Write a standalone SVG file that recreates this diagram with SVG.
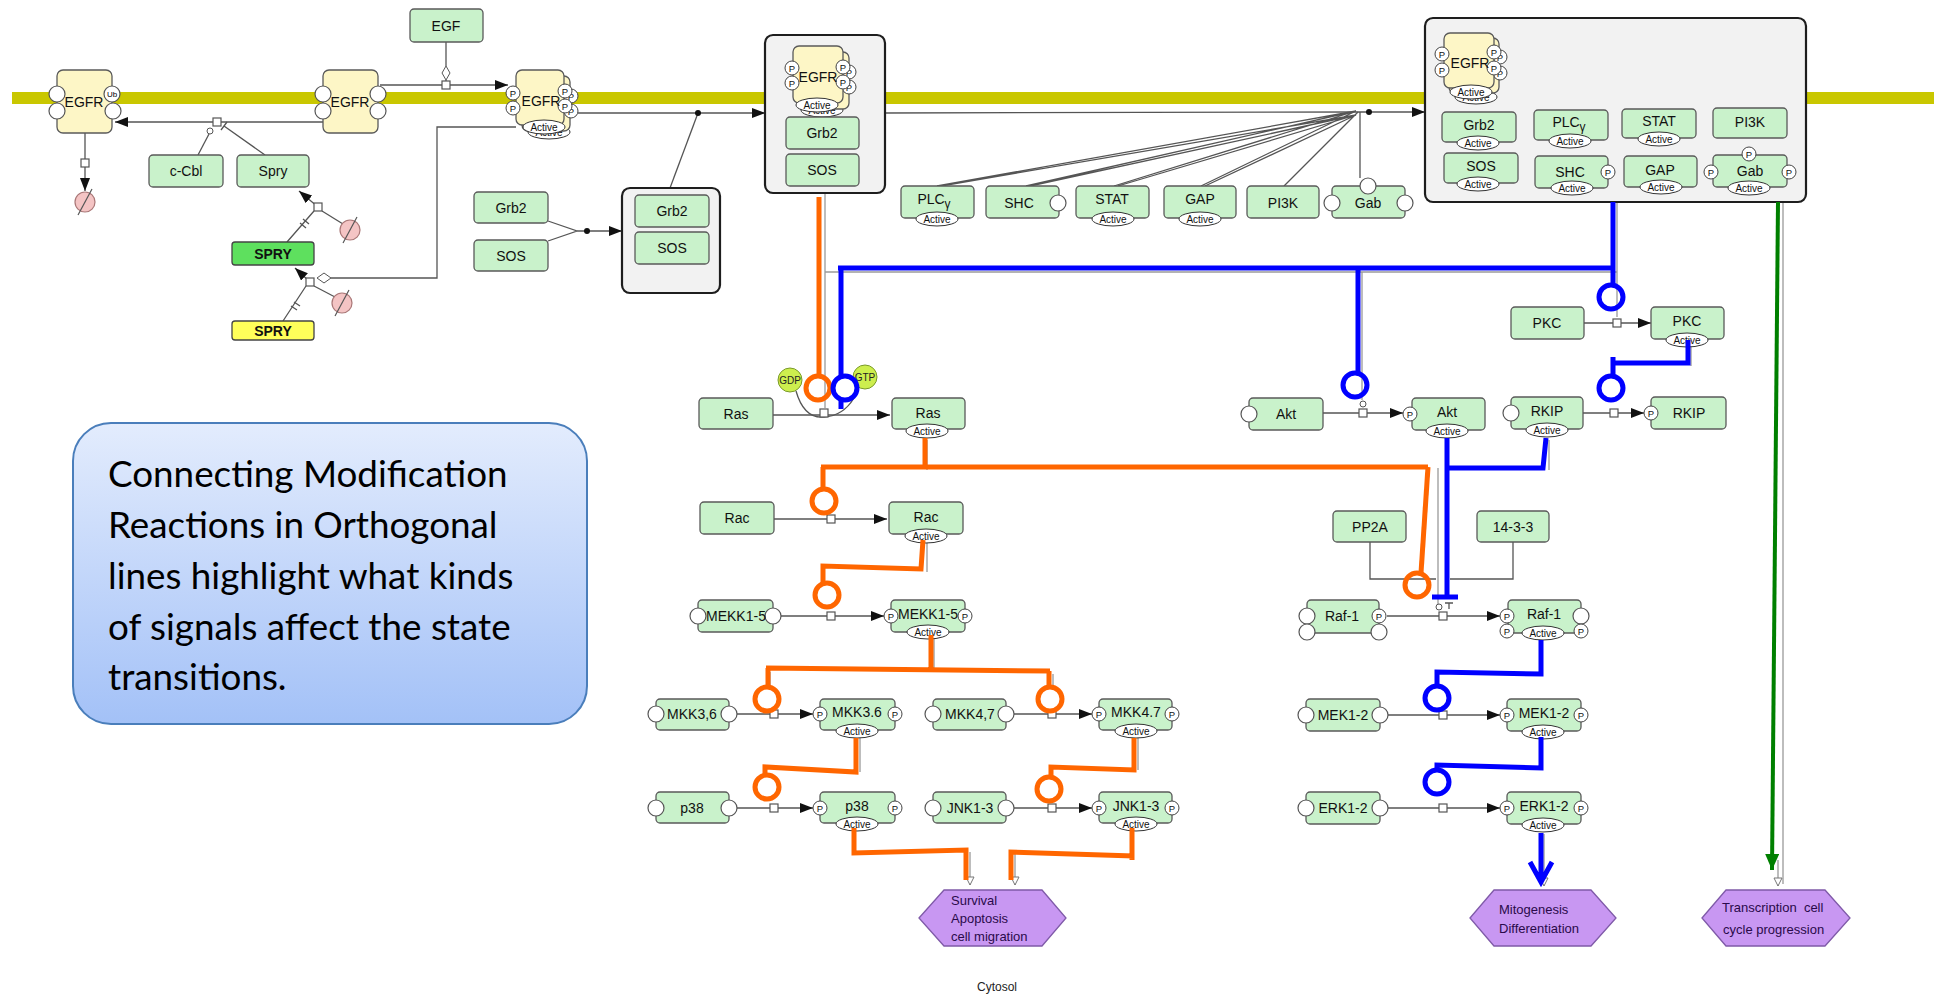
<svg xmlns="http://www.w3.org/2000/svg" width="1934" height="994" viewBox="0 0 1934 994">
<style>
.mm{fill:#c9f2cb;stroke:#5a5a5a;stroke-width:1.3}
.eg{fill:#fdf6c6;stroke:#5a5a5a;stroke-width:1.3}
.cx{fill:#f2f2f2;stroke:#1e1e1e;stroke-width:2.2}
.t{font-family:"Liberation Sans",Arial,sans-serif;font-size:14px;fill:#111;text-anchor:middle}
.ln{fill:none;stroke:#555;stroke-width:1.3}
.gl{fill:none;stroke:#9a9a9a;stroke-width:1.3}
.or{fill:none;stroke:#ff6600;stroke-width:5}
.bl{fill:none;stroke:#0000ff;stroke-width:5}
.hx{fill:#c897f2;stroke:#7f5aa8;stroke-width:1.3}
.ht{font-family:"Liberation Sans",Arial,sans-serif;font-size:13px;fill:#2a0a4a}
.note{font-family:Lato,"Open Sans",sans-serif;font-size:36.8px;fill:#000}
</style>
<defs>
<marker id="ar" markerUnits="userSpaceOnUse" markerWidth="13" markerHeight="10" refX="13" refY="5" orient="auto"><path d="M0,0 L13,5 L0,10 z" fill="#111"/></marker>
<marker id="ot" markerUnits="userSpaceOnUse" markerWidth="10" markerHeight="10" refX="9" refY="5" orient="auto"><path d="M1,1 L9,5 L1,9 z" fill="#fff" stroke="#777"/></marker>
<marker id="ga" markerUnits="userSpaceOnUse" markerWidth="16" markerHeight="14" refX="16" refY="7" orient="auto"><path d="M0,0 L16,7 L0,14 z" fill="#008000"/></marker>
<g id="act"><ellipse rx="21" ry="7" fill="#fff" stroke="#333" stroke-width="1"/><text y="3.5" font-family="Liberation Sans,Arial,sans-serif" font-size="10" text-anchor="middle" fill="#111">Active</text></g>
<g id="pp"><circle r="7" fill="#fff" stroke="#444" stroke-width="1"/><text y="3.5" font-family="Liberation Sans,Arial,sans-serif" font-size="9.5" text-anchor="middle" fill="#111">P</text></g>
<circle id="sv" r="8" fill="#fff" stroke="#555" stroke-width="1.2"/>
<rect id="rs" x="-4" y="-4" width="8" height="8" fill="#fff" stroke="#555" stroke-width="1.2"/>
<circle id="cat" r="3" fill="#fff" stroke="#555" stroke-width="1"/>
<g id="deg"><circle r="10" fill="#f4c4c4" stroke="#a77" stroke-width="1.2"/><line x1="-7" y1="13" x2="7" y2="-13" stroke="#555" stroke-width="1.2"/></g>
<linearGradient id="bx" x1="0" y1="0" x2="0" y2="1"><stop offset="0" stop-color="#e3ecfd"/><stop offset="1" stop-color="#a3c1f7"/></linearGradient>
</defs>

<rect width="1934" height="994" fill="#fff"/>

<!-- plasma membrane -->
<rect id="membrane" x="12" y="92" width="1922" height="12" fill="#c9c700"/>

<!-- thin reaction arcs and lines -->
<g id="connectors">
  <!-- EGF binding -->
  <path class="ln" d="M446,42 V66"/>
  <polygon points="446,66 450,73 446,80 442,73" fill="#fff" stroke="#555"/>
  <path class="ln" d="M446,80 V81"/>
  <path class="ln" d="M380,85 H508" marker-end="url(#ar)"/>
  <use href="#rs" x="446" y="85"/>
  <!-- ubiquitination -->
  <path class="ln" d="M323,122 H115" marker-end="url(#ar)"/>
  <path class="ln" d="M198,155 L209,134"/>
  <use href="#cat" x="210" y="131"/>
  <path class="ln" d="M265,155 L224,126 M221,130 L227,122"/>
  <use href="#rs" x="217" y="122"/>
  <!-- EGFR degradation -->
  <path class="ln" d="M85,133 V159 M85,167 V191" marker-end="url(#ar)"/>
  <use href="#rs" x="85" y="163"/>
  <use href="#deg" x="85" y="202"/>
  <!-- Spry production from SPRY -->
  <path class="ln" d="M287,242 L314,211 M300,223 L306,228 M303,219 L309,224"/>
  <path class="ln" d="M318,207 L299,191" marker-end="url(#ar)"/>
  <path class="ln" d="M322,211 L343,224"/>
  <use href="#rs" x="318" y="207"/>
  <use href="#deg" x="350" y="230"/>
  <path class="ln" d="M283,321 L306,286 M291,306 L297,310 M294,302 L300,306"/>
  <path class="ln" d="M310,282 L295,268" marker-end="url(#ar)"/>
  <path class="ln" d="M314,286 L335,297"/>
  <use href="#rs" x="310" y="282"/>
  <use href="#deg" x="342" y="303"/>
  <path class="ln" d="M331,278 H437 V127 H516"/>
  <polygon points="317,278 324,273 331,278 324,283" fill="#fff" stroke="#555"/>
  <!-- Grb2 / SOS association -->
  <path class="ln" d="M548,221 L577,231 L548,241 M577,231 H622" marker-end="url(#ar)"/>
  <circle cx="587" cy="231" r="3" fill="#111"/>
  <path class="ln" d="M578,113 H765" marker-end="url(#ar)"/>
  <path class="ln" d="M670,188 L698,113"/>
  <circle cx="698" cy="113" r="3" fill="#111"/>
  <!-- adaptor recruitment -->
  <path class="ln" d="M885,113 L1358,112 H1425" marker-end="url(#ar)"/>
  <circle cx="1369" cy="112" r="3" fill="#111"/>
  <path class="ln" d="M937,186 L1356,111 M941,186 L1356,115 M1026,186 L1356,111 M1030,186 L1356,115 M1114,186 L1356,111 M1118,186 L1356,115 M1201,186 L1356,111 M1205,186 L1356,115 M1284,186 L1358,112 M1360,178 V112"/>
  <!-- underlying gray routes of the highlighted signals -->
  <path class="gl" d="M825,193 V408 M825,272 H1617 M1362,272 V400 M1617,202 V317 M1438,468 V604 M927,440 V470 M927,541 V572 M934,634 V672 M770,672 V690 M1053,674 V690 M860,737 V772 M1138,737 V770 M1783,202 V884 M1691,342 V366 M1549,440 V470"/>
  <path class="gl" d="M970,852 V885" marker-end="url(#ot)"/>
  <path class="gl" d="M1015,854 V885" marker-end="url(#ot)"/>
  <path class="gl" d="M1544,834 V886" marker-end="url(#ot)"/>
  <path class="gl" d="M1778,860 V886" marker-end="url(#ot)"/>
  <!-- Ras GDP/GTP exchange -->
  <path class="ln" d="M773,415 H890" marker-end="url(#ar)"/>
  <path class="ln" d="M796,391 Q804,419 824,417 Q843,416 854,398"/>
  <use href="#rs" x="824" y="413"/>
  <!-- MAPK cascade reactions -->
  <path class="ln" d="M774,519 H887" marker-end="url(#ar)"/>
  <use href="#rs" x="831" y="519"/>
  <path class="ln" d="M781,616 H884" marker-end="url(#ar)"/>
  <use href="#rs" x="831" y="616"/>
  <path class="ln" d="M737,714 H813" marker-end="url(#ar)"/>
  <use href="#rs" x="774" y="714"/>
  <path class="ln" d="M1014,714 H1092" marker-end="url(#ar)"/>
  <use href="#rs" x="1052" y="714"/>
  <path class="ln" d="M737,808 H813" marker-end="url(#ar)"/>
  <use href="#rs" x="774" y="808"/>
  <path class="ln" d="M1014,808 H1092" marker-end="url(#ar)"/>
  <use href="#rs" x="1052" y="808"/>
  <!-- Akt, PKC, RKIP -->
  <path class="ln" d="M1323,413 H1403" marker-end="url(#ar)"/>
  <use href="#rs" x="1363" y="413"/>
  <use href="#cat" x="1363" y="404"/>
  <path class="ln" d="M1584,323 H1651" marker-end="url(#ar)"/>
  <use href="#rs" x="1617" y="323"/>
  <path class="ln" d="M1583,413 H1644" marker-end="url(#ar)"/>
  <use href="#rs" x="1614" y="413"/>
  <!-- Raf / MEK / ERK -->
  <path class="ln" d="M1370,542 V579 H1436 M1513,542 V579 H1450"/>
  <path class="ln" d="M1387,616 H1500" marker-end="url(#ar)"/>
  <use href="#rs" x="1443" y="616"/>
  <use href="#cat" x="1439" y="607"/>
  <path class="ln" d="M1449,609 V603 M1445,603 H1453"/>
  <path class="ln" d="M1388,715 H1500" marker-end="url(#ar)"/>
  <use href="#rs" x="1443" y="715"/>
  <path class="ln" d="M1388,808 H1500" marker-end="url(#ar)"/>
  <use href="#rs" x="1443" y="808"/>
</g>

<!-- membrane receptor EGFR (free, ubiquitinated) -->
<g id="egfr-ub">
  <rect class="eg" x="57" y="70" width="55" height="63" rx="6"/>
  <use href="#sv" x="57" y="94"/><use href="#sv" x="57" y="111"/>
  <use href="#sv" x="113" y="111"/>
  <circle cx="112" cy="94" r="8" fill="#fff" stroke="#555" stroke-width="1.2"/>
  <text x="112" y="97" font-family="Liberation Sans,Arial,sans-serif" font-size="8" text-anchor="middle">Ub</text>
  <text class="t" x="84" y="107" font-size="15">EGFR</text>
</g>
<g id="egfr">
  <rect class="eg" x="323" y="70" width="55" height="63" rx="6"/>
  <use href="#sv" x="323" y="94"/><use href="#sv" x="323" y="111"/>
  <use href="#sv" x="378" y="94"/><use href="#sv" x="378" y="111"/>
  <text class="t" x="350" y="107" font-size="15">EGFR</text>
</g>
<g id="egf"><rect class="mm" x="410" y="9" width="73" height="33" rx="4"/><text class="t" x="446" y="31">EGF</text></g>
<g id="c-cbl"><rect class="mm" x="149" y="155" width="74" height="32" rx="4"/><text class="t" x="186" y="176">c-Cbl</text></g>
<g id="spry"><rect class="mm" x="237" y="155" width="72" height="32" rx="4"/><text class="t" x="273" y="176">Spry</text></g>
<g id="spry-gene-active"><rect x="232" y="242" width="82" height="23" rx="3" fill="#5ee05e" stroke="#444" stroke-width="1.3"/><text class="t" x="273" y="259" font-weight="bold" font-size="13">SPRY</text></g>
<g id="spry-gene"><rect x="232" y="321" width="82" height="19" rx="3" fill="#ffff5a" stroke="#444" stroke-width="1.3"/><text class="t" x="273" y="336" font-weight="bold" font-size="13">SPRY</text></g>

<!-- activated EGFR dimer at the membrane -->
<g id="egfr-active">
  <use href="#act" x="549" y="132"/>
  <rect class="eg" x="522" y="76" width="48" height="55" rx="6"/>
  <use href="#pp" x="571" y="96"/><use href="#pp" x="571" y="111"/>
  <rect class="eg" x="516" y="70" width="48" height="55" rx="6"/>
  <use href="#pp" x="513" y="93"/><use href="#pp" x="513" y="108"/>
  <use href="#pp" x="565" y="91"/><use href="#pp" x="565" y="106"/>
  <text class="t" x="541" y="106" font-size="15">EGFR</text>
  <use href="#act" x="544" y="127"/>
</g>

<g id="grb2"><rect class="mm" x="474" y="192" width="74" height="31" rx="4"/><text class="t" x="511" y="213">Grb2</text></g>
<g id="sos"><rect class="mm" x="474" y="240" width="74" height="31" rx="4"/><text class="t" x="511" y="261">SOS</text></g>
<g id="grb2-sos">
  <rect class="cx" x="622" y="188" width="98" height="105" rx="8"/>
  <rect class="mm" x="635" y="195" width="74" height="32" rx="4"/><text class="t" x="672" y="216">Grb2</text>
  <rect class="mm" x="635" y="232" width="74" height="32" rx="4"/><text class="t" x="672" y="253">SOS</text>
</g>

<g id="egfr-grb2-sos">
  <rect class="cx" x="765" y="35" width="120" height="158" rx="8"/>
  <use href="#act" x="822" y="110"/>
  <rect class="eg" x="799" y="52" width="50" height="57" rx="6"/>
  <use href="#pp" x="849" y="72"/><use href="#pp" x="849" y="87"/>
  <rect class="eg" x="793" y="46" width="50" height="57" rx="6"/>
  <use href="#pp" x="792" y="68"/><use href="#pp" x="792" y="83"/>
  <use href="#pp" x="843" y="67"/><use href="#pp" x="843" y="82"/>
  <text class="t" x="818" y="82" font-size="15">EGFR</text>
  <use href="#act" x="817" y="105"/>
  <rect class="mm" x="786" y="117" width="73" height="32" rx="4"/><text class="t" x="822" y="138">Grb2</text>
  <rect class="mm" x="786" y="154" width="73" height="32" rx="4"/><text class="t" x="822" y="175">SOS</text>
</g>

<!-- adaptors and effectors -->
<g id="plcg"><rect class="mm" x="901" y="186" width="73" height="32" rx="4"/><text class="t" x="934" y="204">PLC<tspan dy="4" font-size="12">γ</tspan></text><use href="#act" x="937" y="219"/></g>
<g id="shc"><rect class="mm" x="986" y="186" width="73" height="32" rx="4"/><use href="#sv" x="1058" y="203"/><text class="t" x="1019" y="208">SHC</text></g>
<g id="stat"><rect class="mm" x="1076" y="186" width="73" height="32" rx="4"/><text class="t" x="1112" y="204">STAT</text><use href="#act" x="1113" y="219"/></g>
<g id="gap"><rect class="mm" x="1164" y="186" width="72" height="32" rx="4"/><text class="t" x="1200" y="204">GAP</text><use href="#act" x="1200" y="219"/></g>
<g id="pi3k"><rect class="mm" x="1247" y="186" width="72" height="32" rx="4"/><text class="t" x="1283" y="208">PI3K</text></g>
<g id="gab"><rect class="mm" x="1332" y="186" width="73" height="32" rx="4"/><use href="#sv" x="1332" y="203"/><use href="#sv" x="1405" y="203"/><use href="#sv" x="1368" y="186"/><text class="t" x="1368" y="208">Gab</text></g>

<!-- receptor signalling complex -->
<g id="egfr-signalling-complex">
  <rect class="cx" x="1425" y="18" width="381" height="184" rx="8"/>
  <use href="#act" x="1476" y="97"/>
  <rect class="eg" x="1449" y="38" width="50" height="55" rx="6"/>
  <use href="#pp" x="1500" y="57"/><use href="#pp" x="1500" y="73"/>
  <rect class="eg" x="1444" y="33" width="50" height="55" rx="6"/>
  <use href="#pp" x="1442" y="54"/><use href="#pp" x="1442" y="70"/>
  <use href="#pp" x="1494" y="52"/><use href="#pp" x="1494" y="68"/>
  <text class="t" x="1470" y="68" font-size="15">EGFR</text>
  <use href="#act" x="1471" y="92"/>
  <rect class="mm" x="1442" y="112" width="74" height="30" rx="4"/><text class="t" x="1479" y="130">Grb2</text><use href="#act" x="1478" y="143"/>
  <rect class="mm" x="1444" y="153" width="74" height="30" rx="4"/><text class="t" x="1481" y="171">SOS</text><use href="#act" x="1478" y="184"/>
  <rect class="mm" x="1534" y="110" width="74" height="30" rx="4"/><text class="t" x="1569" y="127">PLC<tspan dy="4" font-size="12">γ</tspan></text><use href="#act" x="1570" y="141"/>
  <rect class="mm" x="1535" y="156" width="73" height="32" rx="4"/><use href="#pp" x="1608" y="172"/><text class="t" x="1570" y="177">SHC</text><use href="#act" x="1572" y="188"/>
  <rect class="mm" x="1622" y="109" width="74" height="29" rx="4"/><text class="t" x="1659" y="126" font-size="13">STAT</text><use href="#act" x="1659" y="139"/>
  <rect class="mm" x="1624" y="156" width="73" height="31" rx="4"/><text class="t" x="1660" y="175">GAP</text><use href="#act" x="1661" y="187"/>
  <rect class="mm" x="1713" y="108" width="74" height="30" rx="4"/><text class="t" x="1750" y="127" font-size="13">PI3K</text>
  <rect class="mm" x="1713" y="155" width="74" height="32" rx="4"/><use href="#pp" x="1749" y="154"/><use href="#pp" x="1711" y="172"/><use href="#pp" x="1789" y="172"/><text class="t" x="1750" y="176">Gab</text><use href="#act" x="1749" y="188"/>
</g>

<!-- Ras / MAPK branch -->
<g id="ras"><rect class="mm" x="699" y="398" width="74" height="31" rx="4"/><text class="t" x="736" y="419">Ras</text></g>
<g id="ras-active"><rect class="mm" x="892" y="398" width="73" height="31" rx="4"/><text class="t" x="928" y="418">Ras</text><use href="#act" x="927" y="431"/></g>
<g id="gdp"><circle cx="790" cy="380" r="12" fill="#cdee4e" stroke="#7a9a2a" stroke-width="1"/><text x="790" y="383.5" font-family="Liberation Sans,Arial,sans-serif" font-size="10" text-anchor="middle" fill="#222">GDP</text></g>
<g id="gtp"><circle cx="865" cy="377" r="12" fill="#cdee4e" stroke="#7a9a2a" stroke-width="1"/><text x="865" y="380.5" font-family="Liberation Sans,Arial,sans-serif" font-size="10" text-anchor="middle" fill="#222">GTP</text></g>
<g id="rac"><rect class="mm" x="700" y="502" width="74" height="32" rx="4"/><text class="t" x="737" y="523">Rac</text></g>
<g id="rac-active"><rect class="mm" x="889" y="502" width="74" height="32" rx="4"/><text class="t" x="926" y="522">Rac</text><use href="#act" x="926" y="536"/></g>
<g id="mekk"><rect class="mm" x="698" y="600" width="75" height="32" rx="4"/><use href="#sv" x="698" y="616"/><use href="#sv" x="773" y="616"/><text class="t" x="736" y="621" font-size="13.5">MEKK1-5</text></g>
<g id="mekk-active"><rect class="mm" x="891" y="600" width="74" height="32" rx="4"/><use href="#pp" x="891" y="616"/><use href="#pp" x="965" y="616"/><text class="t" x="928" y="619" font-size="13.5">MEKK1-5</text><use href="#act" x="928" y="632"/></g>
<g id="mkk36"><rect class="mm" x="656" y="699" width="73" height="31" rx="4"/><use href="#sv" x="656" y="714"/><use href="#sv" x="729" y="714"/><text class="t" x="692" y="719" font-size="13.5">MKK3,6</text></g>
<g id="mkk36-active"><rect class="mm" x="820" y="699" width="75" height="31" rx="4"/><use href="#pp" x="820" y="714"/><use href="#pp" x="895" y="714"/><text class="t" x="857" y="717" font-size="13.5">MKK3.6</text><use href="#act" x="857" y="731"/></g>
<g id="mkk47"><rect class="mm" x="933" y="699" width="73" height="31" rx="4"/><use href="#sv" x="933" y="714"/><use href="#sv" x="1006" y="714"/><text class="t" x="970" y="719" font-size="13.5">MKK4,7</text></g>
<g id="mkk47-active"><rect class="mm" x="1099" y="699" width="73" height="31" rx="4"/><use href="#pp" x="1099" y="714"/><use href="#pp" x="1172" y="714"/><text class="t" x="1136" y="717" font-size="13.5">MKK4.7</text><use href="#act" x="1136" y="731"/></g>
<g id="p38"><rect class="mm" x="656" y="792" width="73" height="31" rx="4"/><use href="#sv" x="656" y="808"/><use href="#sv" x="729" y="808"/><text class="t" x="692" y="813">p38</text></g>
<g id="p38-active"><rect class="mm" x="820" y="792" width="75" height="31" rx="4"/><use href="#pp" x="820" y="808"/><use href="#pp" x="895" y="808"/><text class="t" x="857" y="811">p38</text><use href="#act" x="857" y="824"/></g>
<g id="jnk"><rect class="mm" x="933" y="792" width="73" height="31" rx="4"/><use href="#sv" x="933" y="808"/><use href="#sv" x="1006" y="808"/><text class="t" x="970" y="813" font-size="13.5">JNK1-3</text></g>
<g id="jnk-active"><rect class="mm" x="1099" y="792" width="73" height="31" rx="4"/><use href="#pp" x="1099" y="808"/><use href="#pp" x="1172" y="808"/><text class="t" x="1136" y="811" font-size="13.5">JNK1-3</text><use href="#act" x="1136" y="824"/></g>

<!-- Akt / PKC / RKIP / Raf branch -->
<g id="akt"><rect class="mm" x="1249" y="398" width="74" height="32" rx="4"/><use href="#sv" x="1249" y="414"/><text class="t" x="1286" y="419">Akt</text></g>
<g id="akt-active"><rect class="mm" x="1412" y="398" width="73" height="32" rx="4"/><use href="#pp" x="1410" y="414"/><text class="t" x="1447" y="417">Akt</text><use href="#act" x="1447" y="431"/></g>
<g id="pkc"><rect class="mm" x="1511" y="307" width="73" height="32" rx="4"/><text class="t" x="1547" y="328">PKC</text></g>
<g id="pkc-active"><rect class="mm" x="1651" y="307" width="73" height="32" rx="4"/><text class="t" x="1687" y="326">PKC</text><use href="#act" x="1687" y="340"/></g>
<g id="rkip-active"><rect class="mm" x="1511" y="397" width="72" height="32" rx="4"/><use href="#sv" x="1511" y="413"/><text class="t" x="1547" y="416">RKIP</text><use href="#act" x="1547" y="430"/></g>
<g id="rkip-p"><rect class="mm" x="1651" y="397" width="75" height="32" rx="4"/><use href="#pp" x="1651" y="413"/><text class="t" x="1689" y="418">RKIP</text></g>
<g id="pp2a"><rect class="mm" x="1333" y="511" width="73" height="31" rx="4"/><text class="t" x="1370" y="532">PP2A</text></g>
<g id="p14-3-3"><rect class="mm" x="1477" y="511" width="72" height="31" rx="4"/><text class="t" x="1513" y="532">14-3-3</text></g>
<g id="raf"><rect class="mm" x="1307" y="600" width="72" height="33" rx="4"/><use href="#sv" x="1307" y="616"/><use href="#sv" x="1307" y="632"/><use href="#sv" x="1379" y="632"/><use href="#pp" x="1379" y="616"/><text class="t" x="1342" y="621">Raf-1</text></g>
<g id="raf-active"><rect class="mm" x="1508" y="600" width="73" height="33" rx="4"/><use href="#pp" x="1507" y="616"/><use href="#pp" x="1507" y="631"/><use href="#sv" x="1581" y="616"/><use href="#pp" x="1581" y="631"/><text class="t" x="1544" y="619">Raf-1</text><use href="#act" x="1543" y="633"/></g>
<g id="mek"><rect class="mm" x="1306" y="699" width="74" height="32" rx="4"/><use href="#sv" x="1306" y="715"/><use href="#sv" x="1380" y="715"/><text class="t" x="1343" y="720" font-size="13.5">MEK1-2</text></g>
<g id="mek-active"><rect class="mm" x="1507" y="699" width="74" height="32" rx="4"/><use href="#pp" x="1507" y="715"/><use href="#pp" x="1581" y="715"/><text class="t" x="1544" y="718" font-size="13.5">MEK1-2</text><use href="#act" x="1543" y="732"/></g>
<g id="erk"><rect class="mm" x="1306" y="792" width="74" height="32" rx="4"/><use href="#sv" x="1306" y="808"/><use href="#sv" x="1380" y="808"/><text class="t" x="1343" y="813" font-size="13.5">ERK1-2</text></g>
<g id="erk-active"><rect class="mm" x="1507" y="792" width="74" height="32" rx="4"/><use href="#pp" x="1507" y="808"/><use href="#pp" x="1581" y="808"/><text class="t" x="1544" y="811" font-size="13.5">ERK1-2</text><use href="#act" x="1543" y="825"/></g>

<!-- phenotypes -->
<g id="survival"><polygon class="hx" points="919,918 944,890 1042,890 1066,918 1042,946 944,946"/><text class="ht" x="951" y="905">Survival</text><text class="ht" x="951" y="923">Apoptosis</text><text class="ht" x="951" y="941">cell migration</text></g>
<g id="mitogenesis"><polygon class="hx" points="1470,918 1494,890 1591,890 1616,918 1591,946 1494,946"/><text class="ht" x="1499" y="914">Mitogenesis</text><text class="ht" x="1499" y="933">Differentiation</text></g>
<g id="transcription"><polygon class="hx" points="1702,918 1726,890 1825,890 1850,918 1825,946 1726,946"/><text class="ht" x="1722" y="912" xml:space="preserve">Transcription  cell</text><text class="ht" x="1723" y="934">cycle progression</text></g>

<text x="997" y="991" font-family="Liberation Sans,Arial,sans-serif" font-size="12" text-anchor="middle" fill="#222">Cytosol</text>

<!-- highlighted signal routes -->
<g id="signal-routes">
  <path class="or" d="M819,197 V375"/>
  <circle class="or" cx="818" cy="388" r="12"/>
  <path class="or" d="M925,438 V467 M821,467 H1428 M823,467 V489"/>
  <circle class="or" cx="824" cy="501" r="12"/>
  <path class="or" d="M1428,467 L1421,573"/>
  <circle class="or" cx="1417" cy="585" r="12"/>
  <path class="or" d="M923,540 L921,569 L823,566 V583"/>
  <circle class="or" cx="827" cy="595" r="12"/>
  <path class="or" d="M931,635 V670 M766,668 L1050,671 M768,668 V687 M1049,671 V687"/>
  <circle class="or" cx="767" cy="699" r="12"/>
  <circle class="or" cx="1050" cy="699" r="12"/>
  <path class="or" d="M856,738 V772 L765,767 V775"/>
  <circle class="or" cx="767" cy="787" r="12"/>
  <path class="or" d="M1134,738 V770 L1051,767 V777"/>
  <circle class="or" cx="1049" cy="789" r="12"/>
  <path class="or" d="M854,828 V853 L966,850 V880"/>
  <path class="or" d="M1132,828 V860 M1134,856 L1011,852 V880"/>

  <path class="bl" d="M1613,202 V285"/>
  <circle class="bl" cx="1611" cy="297" r="12"/>
  <path class="bl" d="M838,268 H1615 M841,266 V376 M841,400 V409"/>
  <circle class="bl" cx="845" cy="388" r="12"/>
  <path class="bl" d="M1358,268 V373"/>
  <circle class="bl" cx="1355" cy="385" r="12"/>
  <path class="bl" d="M1688,340 V363 H1611 M1613,357 V376"/>
  <circle class="bl" cx="1611" cy="388" r="12"/>
  <path class="bl" d="M1447,438 V597 M1432,597 H1458 M1447,468 H1543 L1546,438"/>
  <path class="bl" d="M1541,640 V674 L1437,672 V686"/>
  <circle class="bl" cx="1437" cy="698" r="12"/>
  <path class="bl" d="M1541,737 V768 L1437,765 V770"/>
  <circle class="bl" cx="1437" cy="782" r="12"/>
  <path class="bl" d="M1541,833 V882 M1530,862 L1541,882 L1552,862"/>

  <path d="M1778,202 L1772,870" fill="none" stroke="#008000" stroke-width="4" marker-end="url(#ga)"/>
</g>

<!-- explanatory note -->
<g id="note">
  <rect x="73" y="423" width="514" height="301" rx="38" fill="url(#bx)" stroke="#4a7ebb" stroke-width="2"/>
  <text class="note" x="108" y="487">Connecting Modification</text>
  <text class="note" x="108" y="538">Reactions in Orthogonal</text>
  <text class="note" x="108" y="589">lines highlight what kinds</text>
  <text class="note" x="108" y="640">of signals affect the state</text>
  <text class="note" x="108" y="690">transitions.</text>
</g>
</svg>
